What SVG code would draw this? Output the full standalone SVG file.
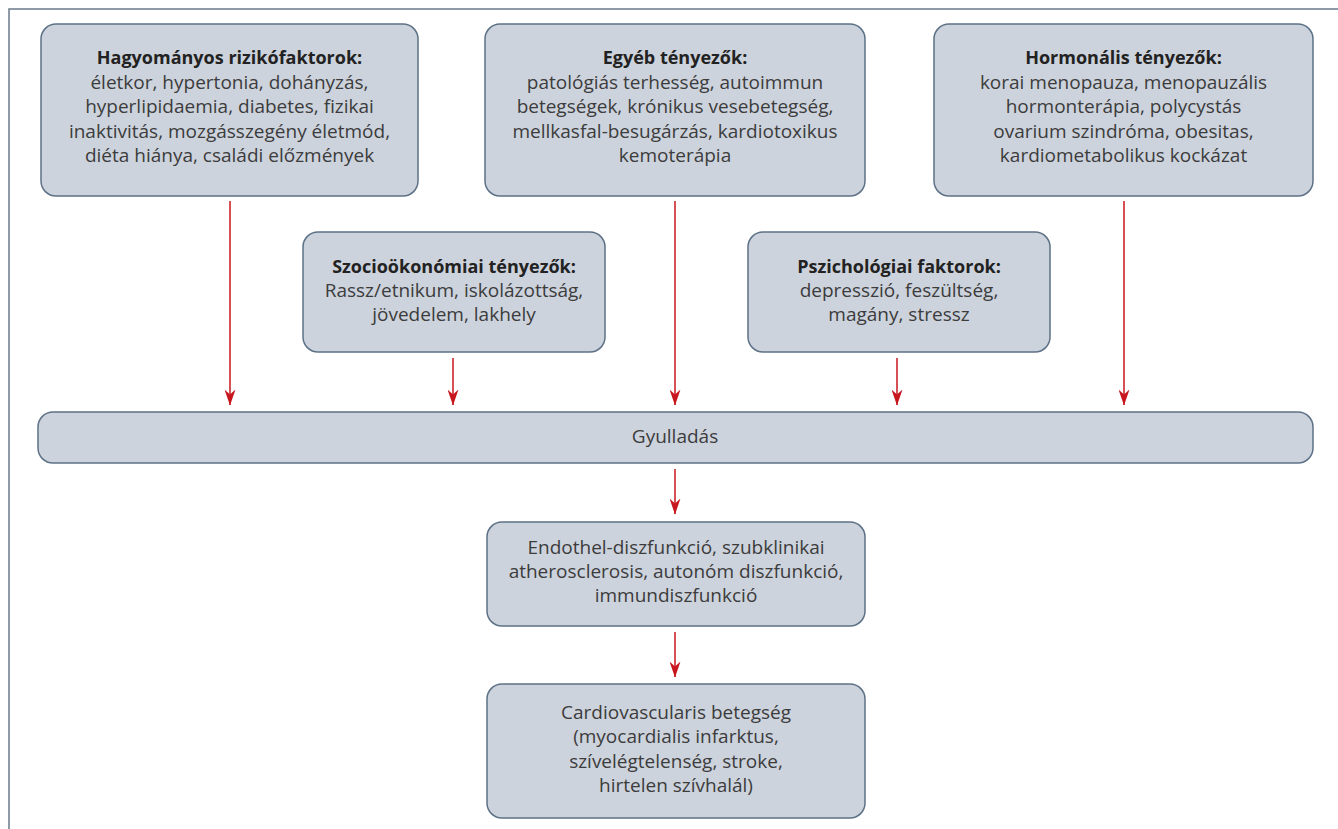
<svg xmlns="http://www.w3.org/2000/svg" width="1338" height="829" viewBox="0 0 1338 829">
<defs>
<style>
.box{fill:#cdd3dc;stroke:#5d7187;stroke-width:1.5}
.t{font-family:"Open Sans","Liberation Sans",sans-serif;font-size:19px;fill:#3c3c3c;text-anchor:middle}
.b{font-weight:bold;fill:#222;font-size:18px}
.c{stroke:#c8161e;stroke-width:1.5;fill:none;marker-end:url(#ah)}
.frame{stroke:#6a7a8c;stroke-width:1.5;fill:none}
</style>
<marker id="ah" viewBox="0 0 16 11" refX="15.5" refY="5.5" markerWidth="16" markerHeight="11" markerUnits="userSpaceOnUse" orient="auto">
<path d="M0,0 L16,5.5 L0,11 L5,5.5 Z" fill="#c8161e"/>
</marker>
</defs>
<rect width="1338" height="829" fill="#fff"/>
<path class="frame" d="M9,829 V9 H1338"/>
<g id="n1">
<rect class="box" x="41" y="24" width="377" height="172" rx="15"/>
<text class="t b" x="229.5" y="64">Hagyományos rizikófaktorok:</text>
<text class="t" x="229.5" y="88.5">életkor, hypertonia, dohányzás,</text>
<text class="t" x="229.5" y="113">hyperlipidaemia, diabetes, fizikai</text>
<text class="t" x="229.5" y="137.5">inaktivitás, mozgásszegény életmód,</text>
<text class="t" x="229.5" y="162">diéta hiánya, családi előzmények</text>
</g>
<g id="n2">
<rect class="box" x="485" y="24" width="380" height="172" rx="15"/>
<text class="t b" x="675" y="64">Egyéb tényezők:</text>
<text class="t" x="675" y="88.5">patológiás terhesség, autoimmun</text>
<text class="t" x="675" y="113">betegségek, krónikus vesebetegség,</text>
<text class="t" x="675" y="137.5">mellkasfal-besugárzás, kardiotoxikus</text>
<text class="t" x="675" y="162">kemoterápia</text>
</g>
<g id="n3">
<rect class="box" x="934" y="24" width="379" height="172" rx="15"/>
<text class="t b" x="1123.5" y="64">Hormonális tényezők:</text>
<text class="t" x="1123.5" y="88.5">korai menopauza, menopauzális</text>
<text class="t" x="1123.5" y="113">hormonterápia, polycystás</text>
<text class="t" x="1123.5" y="137.5">ovarium szindróma, obesitas,</text>
<text class="t" x="1123.5" y="162">kardiometabolikus kockázat</text>
</g>
<g id="n4">
<rect class="box" x="303" y="232" width="302" height="120" rx="15"/>
<text class="t b" x="454" y="273">Szocioökonómiai tényezők:</text>
<text class="t" x="454" y="297">Rassz/etnikum, iskolázottság,</text>
<text class="t" x="454" y="321">jövedelem, lakhely</text>
</g>
<g id="n5">
<rect class="box" x="748" y="232" width="302" height="120" rx="15"/>
<text class="t b" x="899" y="273">Pszichológiai faktorok:</text>
<text class="t" x="899" y="297">depresszió, feszültség,</text>
<text class="t" x="899" y="321">magány, stressz</text>
</g>
<g id="n6">
<rect class="box" x="38" y="412" width="1275" height="51" rx="15"/>
<text class="t" x="675" y="443">Gyulladás</text>
</g>
<g id="n7">
<rect class="box" x="487" y="522" width="378" height="104" rx="15"/>
<text class="t" x="676" y="554">Endothel-diszfunkció, szubklinikai</text>
<text class="t" x="676" y="578">atherosclerosis, autonóm diszfunkció,</text>
<text class="t" x="676" y="602">immundiszfunkció</text>
</g>
<g id="n8">
<rect class="box" x="487" y="684" width="378" height="134" rx="15"/>
<text class="t" x="676" y="719">Cardiovascularis betegség</text>
<text class="t" x="676" y="743">(myocardialis infarktus,</text>
<text class="t" x="676" y="767.5">szívelégtelenség, stroke,</text>
<text class="t" x="676" y="792">hirtelen szívhalál)</text>
</g>
<g id="connectors">
<line class="c" x1="230" y1="201" x2="230" y2="405"/>
<line class="c" x1="453" y1="358" x2="453" y2="405"/>
<line class="c" x1="675" y1="201" x2="675" y2="405"/>
<line class="c" x1="897" y1="358" x2="897" y2="405"/>
<line class="c" x1="1124" y1="201" x2="1124" y2="405"/>
<line class="c" x1="675" y1="469" x2="675" y2="514"/>
<line class="c" x1="675" y1="632" x2="675" y2="677"/>
</g>
</svg>
